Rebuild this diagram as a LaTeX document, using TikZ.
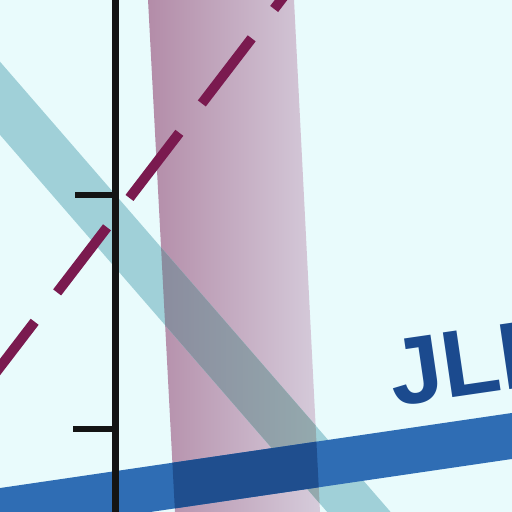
\documentclass[tikz,border=0pt]{standalone}
\usepackage{fontspec}
\setmainfont{Liberation Sans}
\definecolor{bgc}{HTML}{E9FBFC}
\definecolor{pinkL}{HTML}{B38CA8}
\definecolor{pinkR}{HTML}{D6CCDB}
\definecolor{tealc}{HTML}{A0D0D8}
\definecolor{ovL}{HTML}{8A8A9D}
\definecolor{ovR}{HTML}{94AAAE}
\definecolor{bluec}{HTML}{2F6DB4}
\definecolor{blued}{HTML}{1F4E8E}
\definecolor{dashc}{HTML}{7A1A4F}
\definecolor{txtc}{HTML}{1B4A8E}
\begin{document}
\begin{tikzpicture}[x=1pt,y=-1pt,
  axisline/.style={line width=6.5pt, draw=black!92},
  dashroute/.style={line width=10pt, draw=dashc, dash pattern=on 82pt off 37pt},
  maplabel/.style={font=\bfseries\fontsize{95}{95}\selectfont, text=txtc, inner sep=0pt, outer sep=0pt}]
\useasboundingbox (0,0) rectangle (512,512);
\clip (0,0) rectangle (512,512);
\fill[bgc] (0,0) rectangle (512,512);
% pink band
\shade[left color=pinkL, right color=pinkR] (147.5,-10) -- (293.5,-10) -- (320.4,520) -- (175.4,520) -- cycle;
% teal band
\fill[tealc] (-81.9,-32.7) -- (468.1,601.3) -- (431.9,632.7) -- (-118.1,-1.3) -- cycle;
\begin{scope}
  \clip (-81.9,-32.7) -- (468.1,601.3) -- (431.9,632.7) -- (-118.1,-1.3) -- cycle;
  \shade[left color=ovL, right color=ovR] (147.5,-10) -- (293.5,-10) -- (320.4,520) -- (175.4,520) -- cycle;
\end{scope}
% blue band
\fill[bluec] (-10,489.5) -- (522,411.5) -- (522,457.5) -- (-10,535.5) -- cycle;
\begin{scope}
  \clip (147.5,-10) -- (293.5,-10) -- (320.4,520) -- (175.4,520) -- cycle;
  \fill[blued] (-10,489.5) -- (522,411.5) -- (522,457.5) -- (-10,535.5) -- cycle;
\end{scope}
% dashed route
\coordinate (d1) at (-15.2,386.9);
\coordinate (d2) at (304,-30);
\draw[dashroute] (d1) -- (d2);
% axis with ticks
\coordinate (a1) at (115.5,-5);
\coordinate (a2) at (115.5,517);
\coordinate (t1a) at (75,195);
\coordinate (t1b) at (115.5,195);
\coordinate (t2a) at (73,429);
\coordinate (t2b) at (115.5,429);
\draw[axisline] (a1) -- (a2);
\draw[axisline] (t1a) -- (t1b);
\draw[axisline] (t2a) -- (t2b);
% label
\node[maplabel, rotate=8.3, anchor=base west] (label) at (394,406) {JLI};
\end{tikzpicture}
\end{document}
